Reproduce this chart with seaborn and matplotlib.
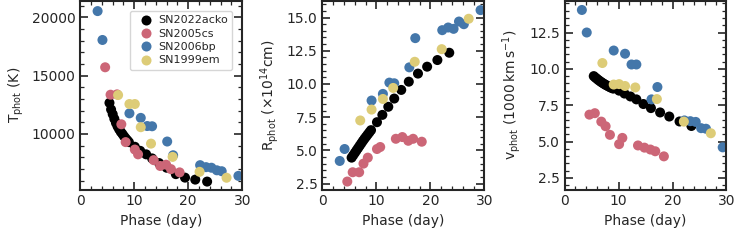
import numpy as np
import pandas as pd
import matplotlib
matplotlib.use('Agg')
import matplotlib.pyplot as plt
from matplotlib.ticker import MultipleLocator
import seaborn as sns

# SN2022acko
ph_acko = [5.4, 5.7, 6.0, 6.3, 6.6, 6.9, 7.2, 7.5, 7.8, 8.1, 8.4, 8.7, 9.0,
           10.1, 11.1, 12.2, 13.3, 14.6, 16.0, 17.7, 19.4, 21.3, 23.5]
T_acko = [12670, 12100, 11700, 11300, 10950, 10650, 10400, 10180, 10000, 9800, 9620, 9460, 9300,
          8900, 8550, 8250, 7900, 7500, 7100, 6550, 6250, 6080, 5910]
R_acko = [4.45, 4.63, 4.81, 4.99, 5.17, 5.35, 5.53, 5.71, 5.88, 6.04, 6.20, 6.36, 6.52,
          7.12, 7.67, 8.28, 8.90, 9.55, 10.17, 10.78, 11.30, 11.80, 12.35]
v_acko = [9.50, 9.40, 9.31, 9.22, 9.14, 9.06, 8.99, 8.92, 8.86, 8.80, 8.74, 8.69, 8.64,
          8.50, 8.30, 8.10, 7.90, 7.58, 7.30, 7.00, 6.72, 6.38, 6.07]

# SN2005cs
ph_05cs = [4.6, 5.6, 6.8, 7.6, 8.4, 10.1, 10.7, 13.6, 14.8, 15.9, 16.8, 18.4]
T_05cs = [15725, 13370, 13400, 10830, 9300, 8660, 8250, 7750, 7250, 7360, 6980, 6700]
R_05cs = [2.65, 3.35, 3.35, 4.0, 4.45, 5.1, 5.25, 5.87, 6.0, 5.72, 5.87, 5.65]
v_05cs = [6.85, 6.95, 6.37, 6.05, 5.46, 4.82, 5.25, 4.73, 4.58, 4.45, 4.33, 3.98]

# SN2006bp
ph_06bp = [3.2, 4.1, 9.1, 11.2, 12.4, 13.3, 16.1, 17.2, 22.2, 23.3, 24.3, 25.3, 26.2, 29.3]
T_06bp = [20550, 18070, 11770, 11380, 10680, 10660, 9350, 8170, 7320, 7150, 7100, 6880, 6800, 6400]
R_06bp = [4.2, 5.1, 8.75, 9.25, 10.1, 10.05, 11.25, 13.45, 14.05, 14.25, 14.15, 14.7, 14.5, 15.56]
v_06bp = [14.05, 12.5, 11.26, 11.04, 10.3, 10.3, 7.9, 8.75, 6.45, 6.4, 6.35, 5.92, 5.88, 4.6]

# SN1999em
ph_99em = [7.0, 9.1, 10.1, 11.2, 13.1, 17.1, 22.1, 27.1]
T_99em = [13340, 12570, 12570, 10580, 9170, 8030, 6750, 6240]
R_99em = [7.25, 8.07, np.nan, 8.87, 9.70, 11.67, 12.62, 14.91]
v_99em = [10.4, 8.92, 8.95, 8.82, 8.72, 7.92, 6.37, 5.57]

names = ['SN2022acko', 'SN2005cs', 'SN2006bp', 'SN1999em']
colors = ['black', '#CC6677', '#4477AA', '#DDCC77']

frames = []
for name, ph, T, R, v in [
        ('SN2022acko', ph_acko, T_acko, R_acko, v_acko),
        ('SN2005cs', ph_05cs, T_05cs, R_05cs, v_05cs),
        ('SN2006bp', ph_06bp, T_06bp, R_06bp, v_06bp),
        ('SN1999em', ph_99em, T_99em, R_99em, v_99em)]:
    frames.append(pd.DataFrame({'SN': name, 'phase': ph, 'T': T, 'R': R, 'v': v}))
data = pd.concat(frames, ignore_index=True)

sns.set_style('ticks', {'xtick.direction': 'in', 'ytick.direction': 'in'})
plt.rcParams.update({
    'font.family': ['DejaVu Sans'],
    'font.size': 10,
    'axes.labelsize': 10,
    'xtick.labelsize': 10,
    'ytick.labelsize': 10,
    'axes.linewidth': 1.5,
    'xtick.top': True, 'ytick.right': True,
    'xtick.major.size': 6, 'ytick.major.size': 6,
    'xtick.minor.size': 3, 'ytick.minor.size': 3,
    'xtick.major.width': 1.2, 'ytick.major.width': 1.2,
    'xtick.minor.width': 0.9, 'ytick.minor.width': 0.9,
    'xtick.minor.visible': True, 'ytick.minor.visible': True,
})

fig, axes = plt.subplots(1, 3, figsize=(7.35, 2.4), dpi=100)
fig.subplots_adjust(left=0.1093, right=0.9884, top=0.996, bottom=0.2104, wspace=0.496)

cols = ['T', 'R', 'v']
ylabels = [r'T$_{\rm phot}$ (K)',
           r'R$_{\rm phot}$ ($\times 10^{14}$cm)',
           r'v$_{\rm phot}$ (1000$\,$km$\,$s$^{-1}$)']
ylims = [(5230, 21420), (2.05, 16.25), (1.70, 14.67)]
ymajor = [5000, 2.5, 2.5]
yminor = [1000, 0.5, 0.5]

for i, ax in enumerate(axes):
    sns.scatterplot(data=data, x='phase', y=cols[i], hue='SN', hue_order=names,
                    palette=colors, s=52, linewidth=0, ax=ax, legend=(i == 0))
    ax.set_xlim(0, 30)
    ax.set_ylim(*ylims[i])
    ax.xaxis.set_major_locator(MultipleLocator(10))
    ax.xaxis.set_minor_locator(MultipleLocator(2))
    ax.yaxis.set_major_locator(MultipleLocator(ymajor[i]))
    ax.yaxis.set_minor_locator(MultipleLocator(yminor[i]))
    ax.set_xlabel('Phase (day)')
    ax.set_ylabel(ylabels[i])
    ax.tick_params(which='both', direction='in', top=True, right=True)

axes[0].legend(loc='upper right', fontsize=8, handletextpad=0.1, borderpad=0.4,
               labelspacing=0.3, borderaxespad=0.9)

plt.savefig('out.png', dpi=100)
